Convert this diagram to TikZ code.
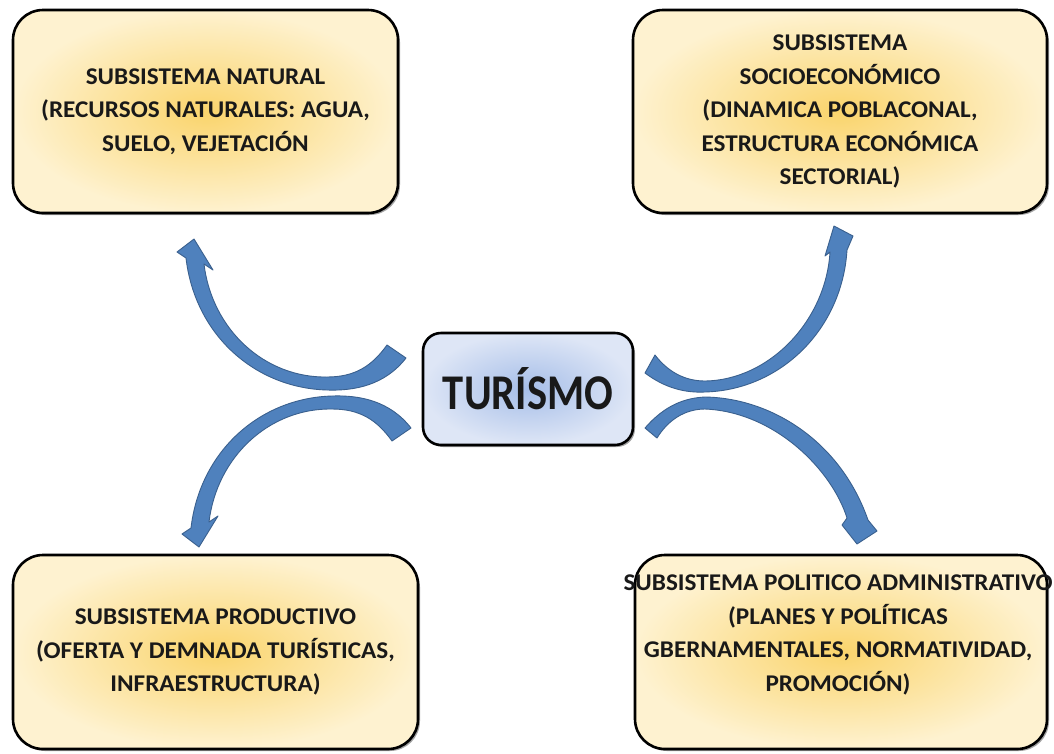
\documentclass[tikz,border=0pt]{standalone}
\usepackage{fontspec}
\setmainfont{Carlito}
\newfontfamily\turfont[FakeStretch=0.85]{Carlito}
\newfontfamily\boxfont[FakeStretch=1.05]{Carlito}
\usetikzlibrary{shadows}
\definecolor{boxin}{RGB}{250,212,108}
\definecolor{boxout}{RGB}{254,242,208}
\definecolor{turin}{RGB}{166,190,232}
\definecolor{turout}{RGB}{222,230,246}
\definecolor{arrowfill}{RGB}{79,129,189}
\definecolor{arrowedge}{RGB}{58,96,142}
\tikzset{
  sysbox/.style={draw=black, line width=2.6pt, rounded corners=30pt,
    shading=radial, inner color=boxin, outer color=boxout,
    drop shadow={shadow xshift=2pt, shadow yshift=-2pt, fill=black!60, opacity=0.6},
    inner sep=0pt},
  systext/.style={align=center, font=\boxfont\bfseries\fontsize{24}{33.5}\selectfont, inner sep=0pt, text=black!90},
  turbox/.style={draw=black, line width=2.6pt, rounded corners=18pt,
    shading=radial, inner color=turin, outer color=turout,
    drop shadow={shadow xshift=2pt, shadow yshift=-2pt, fill=black!60, opacity=0.6},
    minimum width=210pt, minimum height=112pt, inner sep=0pt,
    font=\turfont\bfseries\fontsize{50}{60}\selectfont, text=black!90},
  bluearrow/.style={fill=arrowfill, draw=arrowedge, line width=0.9pt, line join=round}
}
\newcommand\curvedarrowshape{%
  \filldraw[bluearrow] (9,7) .. controls (-12,34) and (-42,40) .. (-70,39)
    .. controls (-142,37) and (-202,-16) .. (-211,-93)
    -- (-220,-99) -- (-203,-112) -- (-184,-81) -- (-193,-87)
    .. controls (-185,-21) and (-132,27) .. (-70,26)
    .. controls (-42,26) and (-25,15) .. (-10,-6) -- cycle;}
\begin{document}
\begin{tikzpicture}[x=1pt, y=-1pt]
\useasboundingbox (0,0) rectangle (1054,753);
\fill[white] (0,0) rectangle (1054,753);

% boxes
\node[sysbox, minimum width=385pt, minimum height=203pt] (nat) at (205.5,111.5) {};
\node[systext] (natt) at (nat.center) {SUBSISTEMA NATURAL\\(RECURSOS NATURALES: AGUA,\\SUELO, VEJETACIÓN};

\node[sysbox, minimum width=414pt, minimum height=203pt] (soc) at (840,111.5) {};
\node[systext] (soct) at (soc.center) {SUBSISTEMA\\SOCIOECONÓMICO\\(DINAMICA POBLACONAL,\\ESTRUCTURA ECONÓMICA\\SECTORIAL)};

\node[sysbox, minimum width=405pt, minimum height=194pt] (pro) at (215.5,652) {};
\node[systext] (prot) at (pro.center) {SUBSISTEMA PRODUCTIVO\\(OFERTA Y DEMNADA TURÍSTICAS,\\INFRAESTRUCTURA)};

\node[sysbox, minimum width=412pt, minimum height=194pt] (pol) at (841,652) {};
\node[systext] (polt) at (838,635) {SUBSISTEMA POLITICO ADMINISTRATIVO\\(PLANES Y POLÍTICAS\\GBERNAMENTALES, NORMATIVIDAD,\\PROMOCIÓN)};

% centre
\node[turbox] (tur) at (528,389) {TURÍSMO};

% arrow anchors
\coordinate (ulT) at (397,351);
\coordinate (llT) at (402,435);

% upper left: towards the natural subsystem
\begin{scope}[shift={(ulT)}]
  \curvedarrowshape
\end{scope}
% lower left: towards the productive subsystem
\begin{scope}[shift={(llT)}, yscale=-1]
  \curvedarrowshape
\end{scope}
% upper right: towards the socio-economic subsystem
\filldraw[bluearrow] (645,373) .. controls (665,388) and (685,393) .. (705,392)
  .. controls (780,390) and (842,330) .. (847,250)
  -- (853,236) -- (834,226) -- (825,256) -- (830,252)
  .. controls (826,320) and (770,380) .. (705,381)
  .. controls (685,381) and (668,372) .. (655,355) -- cycle;
% lower right: towards the political-administrative subsystem
\filldraw[bluearrow] (645,428) .. controls (665,405) and (685,398) .. (705,397)
  .. controls (770,398) and (840,440) .. (868,520)
  -- (877,531) -- (857,544) -- (842,525) -- (847,518)
  .. controls (832,470) and (775,412) .. (705,409)
  .. controls (685,409) and (668,420) .. (657,438) -- cycle;
\end{tikzpicture}
\end{document}
